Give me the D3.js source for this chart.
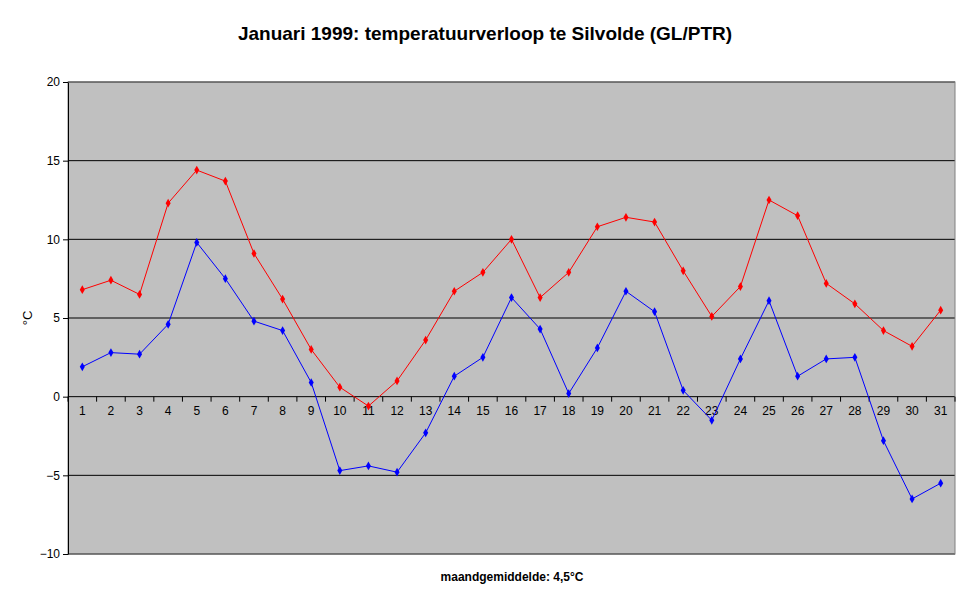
<!DOCTYPE html>
<html><head><meta charset="utf-8">
<script src="https://cdn.jsdelivr.net/npm/d3@7"></script>
<style>body{margin:0;background:#fff}text{font-family:Arial,"Liberation Sans",sans-serif}</style>
</head><body>
<svg width="970" height="604"></svg>
<script>
var days = d3.range(1, 32);
var maxTemp = [6.8,7.4,6.5,12.3,14.4,13.7,9.1,6.2,3.0,0.6,-0.6,1.0,3.6,6.7,7.9,10.0,6.3,7.9,10.8,11.4,11.1,8.0,5.1,7.0,12.5,11.5,7.2,5.9,4.2,3.2,5.5];
var minTemp = [1.9,2.8,2.7,4.6,9.8,7.5,4.8,4.2,0.9,-4.7,-4.4,-4.8,-2.3,1.3,2.5,6.3,4.3,0.2,3.1,6.7,5.4,0.4,-1.5,2.4,6.1,1.3,2.4,2.5,-2.8,-6.5,-5.5];
var yTicks = [-10,-5,0,5,10,15,20];

var svg = d3.select("svg"),
    margin = {top: 82, right: 15, bottom: 50, left: 68},
    width = +svg.attr("width") - margin.left - margin.right,
    height = +svg.attr("height") - margin.top - margin.bottom;

var g = svg.append("g").attr("transform", "translate(" + margin.left + "," + margin.top + ")");

var x = d3.scaleBand().domain(days).range([0, width]);
var y = d3.scaleLinear().domain([-10, 20]).range([height, 0]);

g.append("rect").attr("width", width).attr("height", height).attr("fill", "#c0c0c0");

g.selectAll(".grid").data(yTicks).enter().append("line")
    .attr("x1", 0).attr("x2", width)
    .attr("y1", function(d) { return y(d); }).attr("y2", function(d) { return y(d); })
    .attr("stroke", "#000").attr("stroke-width", 1);

g.append("rect").attr("width", width).attr("height", height).attr("fill", "none").attr("stroke", "#808080");

// y axis
var ya = g.append("g").call(d3.axisLeft(y).tickValues(yTicks).tickSize(5).tickSizeOuter(0));
ya.select(".domain").attr("stroke", "#000");
ya.selectAll("text").style("font-size", "12px");

// x axis on zero line
var xa = g.append("g").attr("transform", "translate(0," + y(0) + ")")
    .call(d3.axisBottom(x).tickSize(0).tickPadding(10));
xa.select(".domain").remove();
xa.selectAll("text").style("font-size", "12px");
g.selectAll(".xt").data(d3.range(0, 32)).enter().append("line")
    .attr("x1", function(i) { return i * x.step(); }).attr("x2", function(i) { return i * x.step(); })
    .attr("y1", y(0)).attr("y2", y(0) + 5).attr("stroke", "#000");

var line = d3.line().x(function(d, i) { return x(days[i]) + x.bandwidth() / 2; }).y(function(d) { return y(d); });
var diamond = d3.symbol().type(d3.symbolDiamond).size(22);

[[maxTemp, "#ff0000"], [minTemp, "#0000ff"]].forEach(function(s) {
    g.append("path").datum(s[0]).attr("d", line).attr("fill", "none").attr("stroke", s[1]).attr("stroke-width", 1);
    g.selectAll(null).data(s[0]).enter().append("path").attr("d", diamond)
        .attr("transform", function(d, i) { return "translate(" + (x(days[i]) + x.bandwidth() / 2) + "," + y(d) + ")"; })
        .attr("fill", s[1]);
});

svg.append("text").attr("x", 485).attr("y", 40).attr("text-anchor", "middle")
    .style("font-size", "19px").style("font-weight", "bold")
    .text("Januari 1999: temperatuurverloop te Silvolde (GL/PTR)");
svg.append("text").attr("transform", "translate(32," + (margin.top + y(5)) + ") rotate(-90)")
    .attr("text-anchor", "middle").style("font-size", "13px").text("°C");
svg.append("text").attr("x", 512).attr("y", 581).attr("text-anchor", "middle")
    .style("font-size", "12px").style("font-weight", "bold").text("maandgemiddelde: 4,5°C");
</script>
</body></html>
